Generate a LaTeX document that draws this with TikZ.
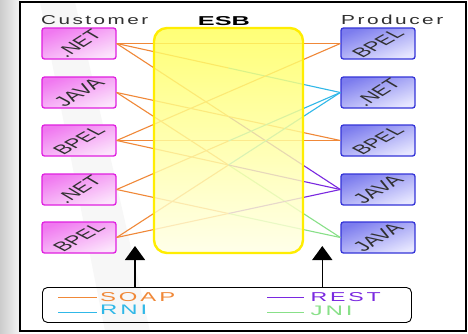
\documentclass[tikz,border=0pt]{standalone}
\usepackage{fontspec}
\setmainfont{Liberation Sans}
\setsansfont{Liberation Sans}
\newfontfamily\hdrfont[LetterSpace=12]{Liberation Sans}
\newfontfamily\esbfont{Liberation Sans}
\usetikzlibrary{arrows.meta,calc}
\definecolor{soapc}{HTML}{F08838}
\definecolor{rnic}{HTML}{30B8E8}
\definecolor{restc}{HTML}{7A28E0}
\definecolor{jnic}{HTML}{88E088}
\definecolor{custborder}{HTML}{E020E0}
\definecolor{custtop}{HTML}{F078F0}
\definecolor{custbot}{HTML}{FCE4FC}
\definecolor{prodborder}{HTML}{3434D8}
\definecolor{prodtop}{HTML}{7C7CEE}
\definecolor{prodbot}{HTML}{E6E6FF}
\definecolor{txtgray}{HTML}{303030}
\tikzset{
  custbox/.style={draw=custborder, line width=1.3pt, rounded corners=2.5pt,
    top color=custtop, bottom color=custbot, shading angle=20,
    minimum width=74pt, minimum height=31pt, inner sep=0pt},
  prodbox/.style={draw=prodborder, line width=1.3pt, rounded corners=2.5pt,
    top color=prodtop, bottom color=prodbot, shading angle=20,
    minimum width=74pt, minimum height=31pt, inner sep=0pt},
  conn/.style={line width=1.1pt},
  lbl/.style={inner sep=0pt},
}
\newcommand\boxlbl[2]{\resizebox*{#1}{30pt}{\rotatebox{46}{\color{txtgray}\sffamily #2}}}
\newcommand\fitt[3]{\resizebox{#1}{#2}{\hdrfont #3}}
\begin{document}
\begin{tikzpicture}[x=1pt,y=-1pt]
\useasboundingbox (0,0) rectangle (468,333);
\fill[white] (0,0) rectangle (468,333);
\shade[left color=gray!40, right color=gray!8] (0,0) rectangle (20,333);
% faint watermark band
\fill[gray, opacity=0.06] (40,2) -- (75,2) -- (150,331) -- (105,331) -- cycle;
% outer frame
\draw[line width=1.4pt] (20,2) rectangle (466,331);

% headers
\node[lbl, anchor=west, text=txtgray] (custhdr) at (41,20.5) {\fitt{107pt}{9pt}{Customer}};
\node[lbl, anchor=west, text=txtgray] (prodhdr) at (341,20) {\fitt{102pt}{9.5pt}{Producer}};
\node[lbl] (esbhdr) at (224,20.8) {\resizebox{52pt}{9pt}{\esbfont\bfseries ESB}};

% customer boxes
\node[custbox] (c1) at (79,43.5) {\boxlbl{48pt}{.NET}};
\node[custbox] (c2) at (79,92.5) {\boxlbl{54pt}{JAVA}};
\node[custbox] (c3) at (79,140.5) {\boxlbl{55pt}{BPEL}};
\node[custbox] (c4) at (79,189.5) {\boxlbl{48pt}{.NET}};
\node[custbox] (c5) at (79,237.5) {\boxlbl{55pt}{BPEL}};
% producer boxes
\node[prodbox] (p1) at (378,43.5) {\boxlbl{55pt}{BPEL}};
\node[prodbox] (p2) at (378,92.5) {\boxlbl{48pt}{.NET}};
\node[prodbox] (p3) at (378,140.5) {\boxlbl{55pt}{BPEL}};
\node[prodbox] (p4) at (378,189.5) {\boxlbl{54pt}{JAVA}};
\node[prodbox] (p5) at (378,237.5) {\boxlbl{54pt}{JAVA}};

% connectors
\foreach \c/\p/\col in {1/1/soapc,1/2/rnic,1/4/restc,2/3/soapc,2/5/jnic,
                         3/1/soapc,3/3/soapc,3/4/restc,4/2/rnic,4/5/jnic,
                         5/2/rnic,5/4/restc}{
  \draw[conn, soapc] (c\c.east) -- ($(c\c.east)!0.5!(p\p.west)$);
  \draw[conn, \col] ($(c\c.east)!0.5!(p\p.west)$) -- (p\p.west);
}

% ESB
\path[draw=yellow!95!orange, line width=2.4pt, rounded corners=13pt,
      top color=yellow!65, bottom color=yellow!10, fill opacity=0.82]
  (154,28) rectangle (303,253);
\node[lbl] (esb) at (228.5,140.5) {};

% legend
\node[draw, line width=0.9pt, rounded corners=5pt, minimum width=369pt,
      minimum height=35pt, anchor=north west, inner sep=0pt] (legend) at (42,287) {};
\coordinate (s1) at (58,297.7); \coordinate (s2) at (97,297.7);
\coordinate (r1) at (58,312.5); \coordinate (r2) at (97,312.5);
\coordinate (e1) at (267,297.7); \coordinate (e2) at (304,297.7);
\coordinate (j1) at (267,312.5); \coordinate (j2) at (304,312.5);
\draw[conn, soapc] (s1) -- (s2);
\draw[conn, rnic] (r1) -- (r2);
\draw[conn, restc] (e1) -- (e2);
\draw[conn, jnic] (j1) -- (j2);
\node[lbl, anchor=west, text=soapc] (soap) at (100,297.5) {\fitt{75pt}{9pt}{SOAP}};
\node[lbl, anchor=west, text=rnic] (rni) at (100,309.8) {\fitt{47pt}{9.5pt}{RNI}};
\node[lbl, anchor=west, text=restc] (rest) at (310.5,297.5) {\fitt{70pt}{9pt}{REST}};
\node[lbl, anchor=west, text=jnic] (jni) at (310.5,310.5) {\fitt{42pt}{9.5pt}{JNI}};

% arrows
\coordinate (a1) at (135,246);
\coordinate (a2) at (322.3,246);
\draw[line width=1.5pt, -{Triangle[width=20pt,length=14pt]}] (a1 |- legend.north) -- (a1);
\draw[line width=1.5pt, -{Triangle[width=20pt,length=14pt]}] (a2 |- legend.north) -- (a2);
\end{tikzpicture}
\end{document}
